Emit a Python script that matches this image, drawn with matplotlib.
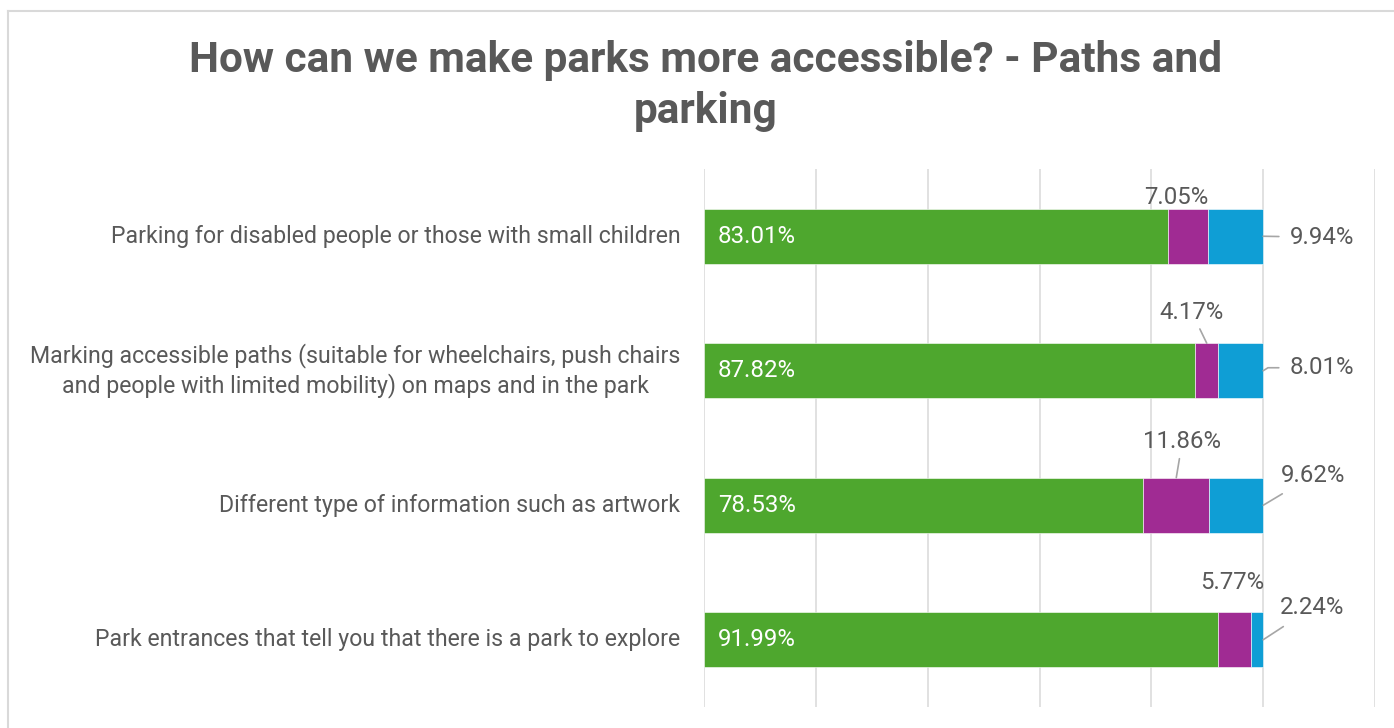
import matplotlib
matplotlib.use("Agg")
import matplotlib.pyplot as plt
from matplotlib.lines import Line2D

plt.rcParams['font.family'] = ['Roboto', 'DejaVu Sans']

# Survey answers, share of respondents per option
categories = [
    "Parking for disabled people or those with small children",
    "Marking accessible paths (suitable for wheelchairs, push chairs\nand people with limited mobility) on maps and in the park",
    "Different type of information such as artwork",
    "Park entrances that tell you that there is a park to explore",
]
green_vals = [83.01, 87.82, 78.53, 91.99]
magenta_vals = [7.05, 4.17, 11.86, 5.77]
blue_vals = [9.94, 8.01, 9.62, 2.24]

GREEN = "#4EA72E"
MAGENTA = "#A02B93"
BLUE = "#0F9ED5"
TEXT = "#595959"
GRID = "#D9D9D9"
LEADER = "#A6A6A6"

fig = plt.figure(figsize=(13.94, 7.28), dpi=100)
ax = fig.add_axes([704 / 1394, 1 - 707 / 728, (1375 - 704) / 1394, (707 - 169) / 728])

ypos = list(range(len(categories)))
bar_h = 0.41
g = [v / 100 for v in green_vals]
m = [v / 100 for v in magenta_vals]
b = [v / 100 for v in blue_vals]
left_b = [gi + mi for gi, mi in zip(g, m)]

ax.barh(ypos, g, height=bar_h, color=GREEN, edgecolor="white", linewidth=0.4, zorder=3)
ax.barh(ypos, m, left=g, height=bar_h, color=MAGENTA, edgecolor="white", linewidth=0.4, zorder=3)
ax.barh(ypos, b, left=left_b, height=bar_h, color=BLUE, edgecolor="white", linewidth=0.4, zorder=3)

ax.set_xlim(0, 1.2)
ax.set_ylim(len(categories) - 0.5, -0.5)
ax.set_xticks([0, 0.2, 0.4, 0.6, 0.8, 1.0, 1.2])
ax.xaxis.grid(True, color=GRID, linewidth=1.1, zorder=0)
ax.set_axisbelow(True)
ax.tick_params(axis="x", length=0, labelbottom=False)
ax.tick_params(axis="y", length=0, pad=17, labelsize=16.7, labelcolor=TEXT)
ax.set_yticks(ypos)
ax.set_yticklabels(categories, ha="right", va="center", multialignment="center",
                   linespacing=1.25)
for s in ax.spines.values():
    s.set_visible(False)

lbl_size = 17.3

# Labels inside the green segments
for i, v in enumerate(green_vals):
    ax.annotate(f"{v:.2f}%", xy=(0, i), xytext=(14, 0), textcoords="offset pixels",
                ha="left", va="center", color="white", fontsize=lbl_size, zorder=5)

# Labels above the magenta segments (offsets in pixels, leader flag)
mag_offsets = [(-12, 11, False), (-15, 31, True), (6, 36, True), (-2, 30, False)]
for i, v in enumerate(magenta_vals):
    dx, dy, lead = mag_offsets[i]
    x_mid = g[i] + m[i] / 2
    ap = dict(arrowstyle="-", color=LEADER, lw=1.2, shrinkA=2, shrinkB=0) if lead else None
    ax.annotate(f"{v:.2f}%", xy=(x_mid, i - bar_h / 2), xytext=(dx, dy),
                textcoords="offset pixels", ha="center", va="center", color=TEXT,
                fontsize=lbl_size, arrowprops=ap, zorder=5, annotation_clip=False)

# Labels to the right of the blue segments (offsets in pixels, leader shape)
blue_offsets = [(59, -1, "arc3"), (59, 3, "angle,angleA=180,angleB=32,rad=0"),
                (50, 30, "arc3"), (49, 32, "arc3")]
for i, v in enumerate(blue_vals):
    dx, dy, conn = blue_offsets[i]
    ap = dict(arrowstyle="-", color=LEADER, lw=1.2, shrinkA=6, shrinkB=0,
              connectionstyle=conn)
    ax.annotate(f"{v:.2f}%", xy=(left_b[i] + b[i], i), xytext=(dx, dy),
                textcoords="offset pixels", ha="center", va="center", color=TEXT,
                fontsize=lbl_size, arrowprops=ap, zorder=5, annotation_clip=False)

fig.text(706 / 1394, 1 - 86 / 728, "How can we make parks more accessible? - Paths and\nparking",
         ha="center", va="center", multialignment="center", fontsize=30.5,
         fontweight="bold", color=TEXT, linespacing=1.33)

# Chart area frame (top and left edges visible)
fig.add_artist(Line2D([8 / 1394, 8 / 1394], [0, 1 - 11 / 728], transform=fig.transFigure,
                      color=GRID, linewidth=1.5))
fig.add_artist(Line2D([8 / 1394, 1], [1 - 11 / 728, 1 - 11 / 728], transform=fig.transFigure,
                      color=GRID, linewidth=1.5))

fig.savefig("out.png", dpi=100, facecolor="white")
